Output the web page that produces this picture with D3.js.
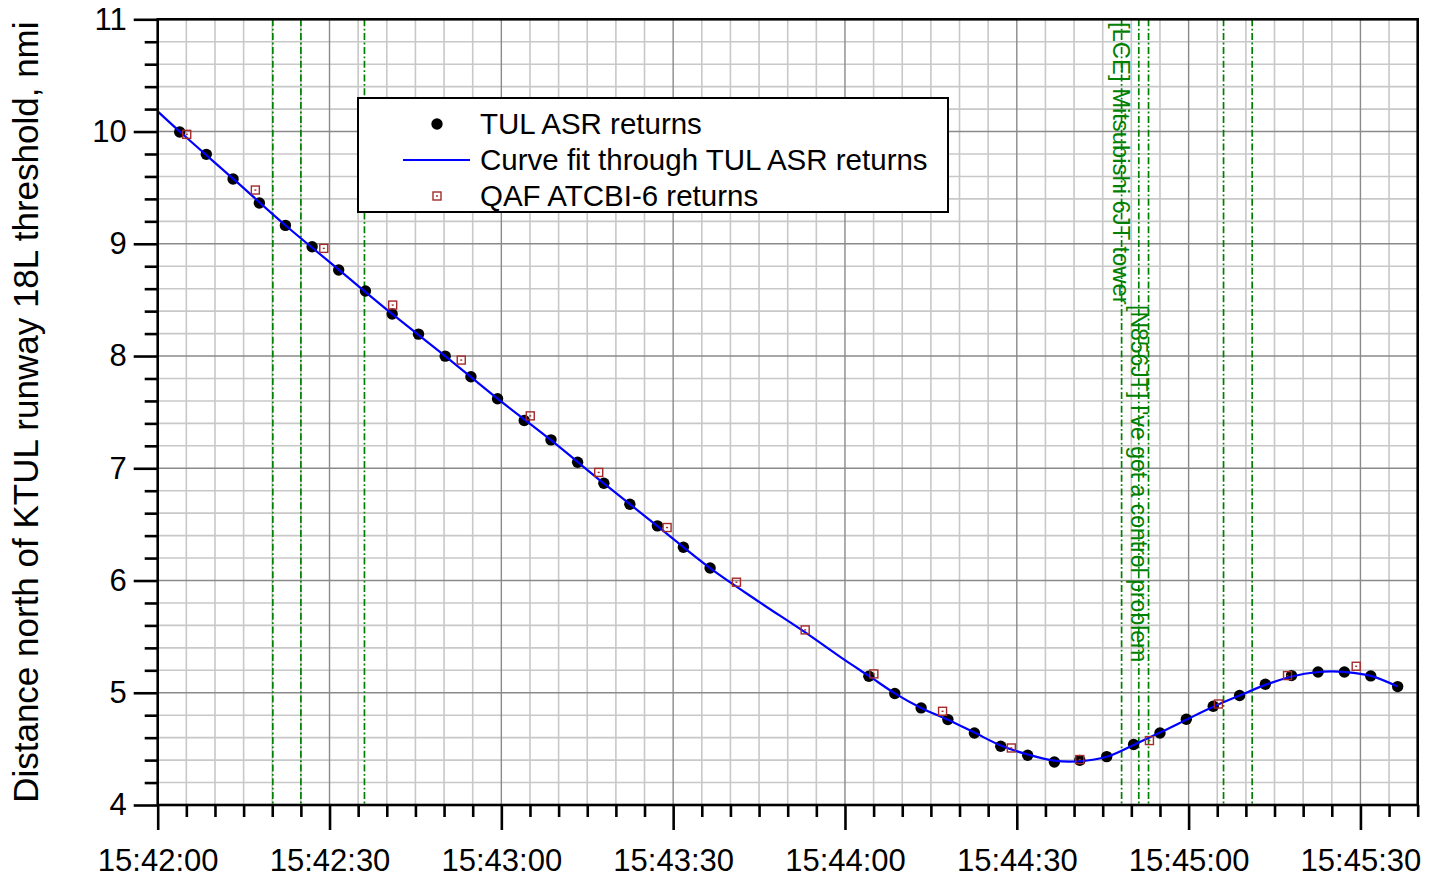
<!DOCTYPE html>
<html>
<head>
<meta charset="utf-8">
<script src="https://cdn.jsdelivr.net/npm/d3@7"></script>
<style>
  html, body { margin: 0; padding: 0; background: #fff; }
  svg { display: block; font-family: "Liberation Sans", Arial, sans-serif; }
</style>
</head>
<body>
<svg id="chart" width="1436" height="877"></svg>
<script>
// Seconds after 15:42:00 and distance (nmi) for the TUL ASR returns
const asrTimes = [3.84, 8.49, 13.16, 17.75, 22.3, 26.96, 31.6, 36.27, 40.94, 45.54,
  50.2, 54.69, 59.34, 64.0, 68.67, 73.32, 77.9, 82.44, 87.25, 91.79, 96.45,
  124.17, 128.7, 133.3, 137.97, 142.6, 147.2, 151.9, 156.56, 161.0, 165.7,
  170.4, 175.0, 179.6, 184.3, 188.9, 193.4, 197.97, 202.6, 207.2, 211.8, 216.5];
const asrDist = [9.996, 9.797, 9.577, 9.363, 9.164, 8.973, 8.766, 8.579, 8.374, 8.195,
  7.999, 7.815, 7.619, 7.426, 7.253, 7.054, 6.867, 6.68, 6.487, 6.297, 6.112,
  5.147, 4.993, 4.865, 4.761, 4.642, 4.523, 4.443, 4.383, 4.398, 4.431,
  4.539, 4.642, 4.764, 4.88, 4.975, 5.076, 5.153, 5.185, 5.185, 5.15, 5.055];

// Curve fit through the ASR returns
const fitTimes = [0, 3.84, 13.16, 22.3, 31.6, 40.94, 50.2, 59.34, 68.67, 77.9, 87.25,
  96.45, 105, 113, 120, 124.17, 128.7, 133.3, 137.97, 142.6, 147.2, 151.9, 156.56,
  161.0, 165.7, 170.4, 175.0, 179.6, 184.3, 188.9, 193.4, 198, 202.6, 205, 207.2,
  211.8, 216.5];
const fitDist = [10.18, 10.0, 9.58, 9.165, 8.77, 8.375, 8.0, 7.62, 7.25, 6.865, 6.485,
  6.11, 5.81, 5.54, 5.29, 5.15, 4.995, 4.865, 4.76, 4.645, 4.53, 4.45, 4.395,
  4.39, 4.43, 4.535, 4.645, 4.76, 4.875, 4.975, 5.07, 5.145, 5.185, 5.19, 5.185,
  5.15, 5.055];

// QAF ATCBI-6 returns
const qafTimes = [5.07, 17.05, 29.0, 41.03, 53.0, 65.05, 77.0, 88.94, 101.05, 113.05,
  125.04, 137.04, 149.05, 161.0, 173.16, 185.2, 197.27, 209.26];
const qafDist = [9.975, 9.479, 8.959, 8.454, 7.964, 7.467, 6.963, 6.472, 5.985, 5.56,
  5.168, 4.835, 4.508, 4.405, 4.574, 4.9, 5.153, 5.236];

// Radio transmission event markers (seconds after 15:42:00)
const eventTimes = [20.1, 25.0, 36.1, 168.3, 171.3, 173.0, 186.1, 191.1];
const eventLabels = ["", "", "", "[LCE] Mitsubishi 6JT tower", "[N856JT] I've got a control problem", "", "", ""];

const xTickLabels = ["15:42:00", "15:42:30", "15:43:00", "15:43:30", "15:44:00", "15:44:30", "15:45:00", "15:45:30"];
const yTickLabels = ["4", "5", "6", "7", "8", "9", "10", "11"];

const legendLabels = ["TUL ASR returns", "Curve fit through TUL ASR returns", "QAF ATCBI-6 returns"];

const yTitle = "Distance north of KTUL runway 18L threshold, nmi";

const svg = d3.select("#chart");
const plotLeft = 157.7, plotRight = 1417.7, plotTop = 19.3, plotBottom = 805;

const x = d3.scaleLinear().domain([0, 220]).range([plotLeft, plotRight]);
const y = d3.scaleLinear().domain([4, 11]).range([plotBottom, plotTop]);

// Grid
const grid = svg.append("g");
const minorX = d3.range(0, 221, 5).filter(d => d % 30 !== 0);
const majorX = d3.range(0, 221, 30);
const minorY = d3.range(4, 11.001, 0.2).filter(d => Math.abs(d - Math.round(d)) > 1e-6);
const majorY = d3.range(4, 12, 1);

grid.selectAll(".gxm").data(minorX).join("line")
  .attr("x1", d => x(d)).attr("x2", d => x(d)).attr("y1", plotTop).attr("y2", plotBottom)
  .attr("stroke", "#c8c8c8").attr("stroke-width", 1.6);
grid.selectAll(".gym").data(minorY).join("line")
  .attr("y1", d => y(d)).attr("y2", d => y(d)).attr("x1", plotLeft).attr("x2", plotRight)
  .attr("stroke", "#c8c8c8").attr("stroke-width", 1.6);
grid.selectAll(".gxM").data(majorX).join("line")
  .attr("x1", d => x(d)).attr("x2", d => x(d)).attr("y1", plotTop).attr("y2", plotBottom)
  .attr("stroke", "#8a8a8a").attr("stroke-width", 1.4);
grid.selectAll(".gyM").data(majorY).join("line")
  .attr("y1", d => y(d)).attr("y2", d => y(d)).attr("x1", plotLeft).attr("x2", plotRight)
  .attr("stroke", "#8a8a8a").attr("stroke-width", 1.4);

// Event lines and labels
const ev = svg.append("g");
ev.selectAll("line").data(eventTimes).join("line")
  .attr("x1", d => x(d)).attr("x2", d => x(d)).attr("y1", plotTop).attr("y2", plotBottom)
  .attr("stroke", "#008000").attr("stroke-width", 1.7)
  .attr("stroke-dasharray", "7,2.5,1.8,2.5");

const labelStart = [0, 0, 0, 22, 305, 0, 0, 0];
const labelSize = [0, 0, 0, 23.8, 23, 0, 0, 0];
ev.selectAll("text").data(eventTimes.map((t, i) => ({ t, label: eventLabels[i], y0: labelStart[i], fs: labelSize[i] })).filter(d => d.label))
  .join("text")
  .attr("transform", d => `translate(${x(d.t)},${d.y0}) rotate(90)`)
  .attr("dominant-baseline", "central")
  .attr("font-size", d => d.fs)
  .attr("fill", "#008000")
  .text(d => d.label);

// ASR returns
svg.append("g").selectAll("circle").data(asrTimes).join("circle")
  .attr("cx", d => x(d)).attr("cy", (d, i) => y(asrDist[i])).attr("r", 5.7)
  .attr("fill", "#000");

// Curve fit
const fitLine = d3.line().x(d => x(d[0])).y(d => y(d[1])).curve(d3.curveCatmullRom.alpha(0.5));
svg.append("path")
  .datum(fitTimes.map((t, i) => [t, fitDist[i]]))
  .attr("d", fitLine)
  .attr("fill", "none").attr("stroke", "#0000ff").attr("stroke-width", 2.2);

// QAF returns
const sq = 8;
const qaf = svg.append("g");
qaf.selectAll("rect.box").data(qafTimes).join("rect").attr("class", "box")
  .attr("x", d => x(d) - sq / 2).attr("y", (d, i) => y(qafDist[i]) - sq / 2)
  .attr("width", sq).attr("height", sq)
  .attr("fill", "none").attr("stroke", "#a52a2a").attr("stroke-width", 1.4);
qaf.selectAll("rect.pt").data(qafTimes).join("rect").attr("class", "pt")
  .attr("x", d => x(d) - 1).attr("y", (d, i) => y(qafDist[i]) - 0.7)
  .attr("width", 2).attr("height", 1.4)
  .attr("fill", "#a52a2a");

// Axes
const axisStyle = g => {
  g.select(".domain").remove();
  g.selectAll(".tick line").attr("stroke", "#000").attr("stroke-width", 2.6);
  g.selectAll("text").attr("font-size", 31).attr("fill", "#000")
    .attr("font-family", "'Liberation Sans', Arial, sans-serif");
};

svg.append("g").attr("transform", `translate(0,${plotBottom})`)
  .call(d3.axisBottom(x).tickValues(minorX).tickSize(12).tickFormat(""))
  .call(axisStyle);
svg.append("g").attr("transform", `translate(0,${plotBottom})`)
  .call(d3.axisBottom(x).tickValues(majorX).tickSize(25).tickPadding(19).tickFormat((d, i) => xTickLabels[i]))
  .call(axisStyle);

svg.append("g").attr("transform", `translate(${plotLeft},0)`)
  .call(d3.axisLeft(y).tickValues(minorY).tickSize(13).tickFormat(""))
  .call(axisStyle);
svg.append("g").attr("transform", `translate(${plotLeft},0)`)
  .call(d3.axisLeft(y).tickValues(majorY).tickSize(24).tickPadding(7).tickFormat((d, i) => yTickLabels[i]))
  .call(axisStyle);

// Frame
svg.append("rect").attr("x", plotLeft).attr("y", plotTop)
  .attr("width", plotRight - plotLeft).attr("height", plotBottom - plotTop)
  .attr("fill", "none").attr("stroke", "#000").attr("stroke-width", 2.6);

// Y title
svg.append("text")
  .attr("transform", `translate(38,${(plotTop + plotBottom) / 2}) rotate(-90)`)
  .attr("text-anchor", "middle")
  .attr("font-size", 35)
  .attr("fill", "#000")
  .text(yTitle);

// Legend
const lg = svg.append("g");
lg.append("rect").attr("x", 358).attr("y", 98).attr("width", 590).attr("height", 114)
  .attr("fill", "#fff").attr("stroke", "#000").attr("stroke-width", 2);
const rowY = [124, 160, 196];
lg.selectAll("text").data(legendLabels).join("text")
  .attr("x", 480).attr("y", (d, i) => rowY[i]).attr("dy", "0.35em")
  .attr("font-size", 29.5).attr("fill", "#000").text(d => d);
lg.append("circle").attr("cx", 437).attr("cy", rowY[0]).attr("r", 5.7).attr("fill", "#000");
lg.append("line").attr("x1", 403).attr("x2", 470).attr("y1", rowY[1]).attr("y2", rowY[1])
  .attr("stroke", "#0000ff").attr("stroke-width", 2.2);
lg.append("rect").attr("x", 437 - sq / 2).attr("y", rowY[2] - sq / 2).attr("width", sq).attr("height", sq)
  .attr("fill", "none").attr("stroke", "#a52a2a").attr("stroke-width", 1.4);
lg.append("rect").attr("x", 436).attr("y", rowY[2] - 0.7).attr("width", 2).attr("height", 1.4).attr("fill", "#a52a2a");
</script>
</body>
</html>
